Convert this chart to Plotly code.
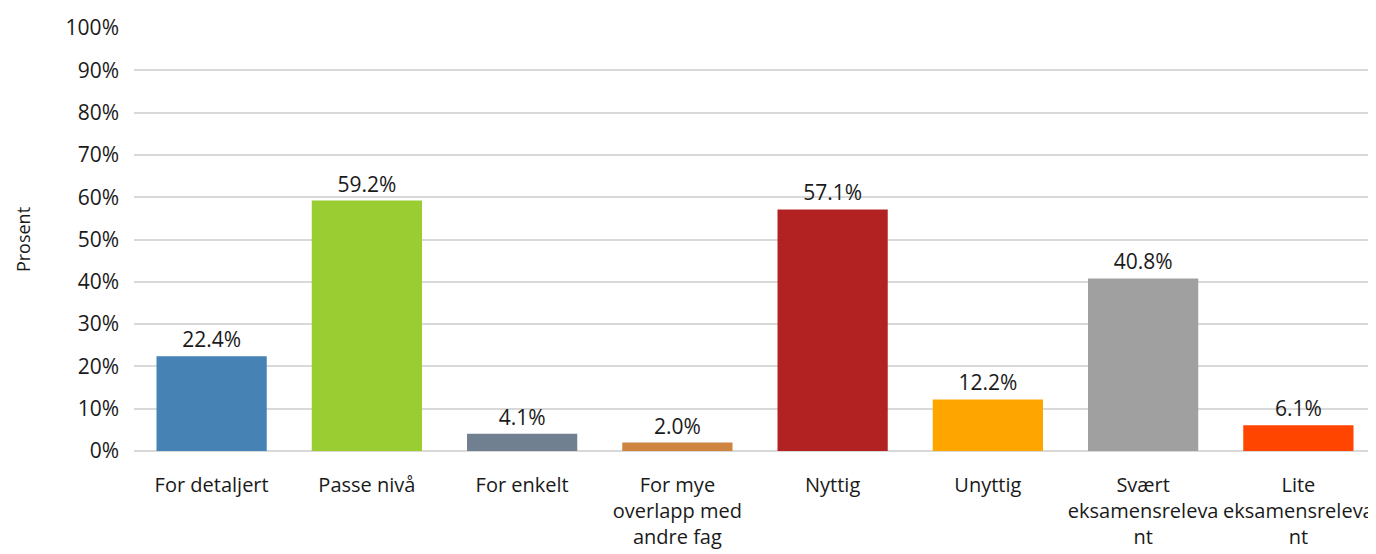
import plotly.graph_objects as go

categories = ["For detaljert", "Passe nivå", "For enkelt", "For mye<br>overlapp med<br>andre fag",
              "Nyttig", "Unyttig", "Svært<br>eksamensreleva<br>nt", "Lite<br>eksamensreleva<br>nt"]
values = [22.4, 59.2, 4.1, 2.0, 57.1, 12.2, 40.8, 6.1]
colors = ["#4682B4", "#9ACD32", "#708090", "#CD853F", "#B22222", "#FFA500", "#A0A0A0", "#FF4500"]
y_ticks = list(range(0, 101, 10))

font_family = "'Open Sans', sans-serif"

fig = go.Figure(go.Bar(
    x=categories,
    y=values,
    marker=dict(color=colors, line=dict(width=0)),
    text=[f"{v:.1f}%" for v in values],
    textposition="outside",
    textfont=dict(size=21, color="#1a1a1a", family=font_family),
    cliponaxis=False,
))

# page body adds an 8px offset, so the figure is 8px smaller than the window
fig.update_layout(
    width=1368, height=546,
    margin=dict(l=126, r=0, t=20, b=103),
    plot_bgcolor="white", paper_bgcolor="white",
    bargap=0.29,
    showlegend=False,
    font=dict(family=font_family, size=21, color="#1a1a1a"),
)
fig.update_yaxes(
    range=[0, 100], tickvals=y_ticks, ticktext=[f"{t}%" for t in y_ticks],
    showgrid=True, gridcolor="#D9D9D9", gridwidth=1.5,
    zeroline=True, zerolinecolor="#D9D9D9", zerolinewidth=1.5,
    ticks="", ticklabelstandoff=14, automargin=False,
    tickfont=dict(size=21),
    title=dict(text="Prosent", font=dict(size=18), standoff=30),
)
fig.update_xaxes(showline=False, ticks="", tickangle=0, ticklabelstandoff=20, automargin=False,
                 tickfont=dict(size=20))

fig.write_html("out.html")
